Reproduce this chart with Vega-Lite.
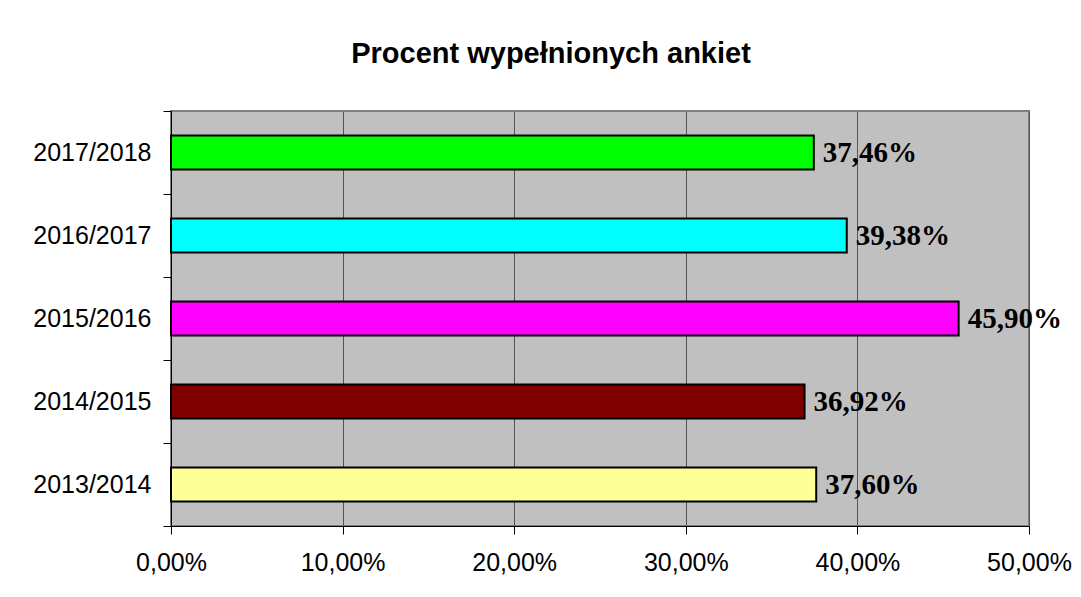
{
  "$schema": "https://vega.github.io/schema/vega-lite/v6.json",
  "width": 858,
  "height": 415,
  "autosize": {"type": "none"},
  "padding": {"left": 171, "top": 111, "right": 52, "bottom": 71},
  "background": "white",
  "title": {
    "text": "Procent wypełnionych ankiet",
    "font": "Liberation Sans",
    "fontSize": 29,
    "fontWeight": "bold",
    "color": "black",
    "anchor": "middle",
    "dx": -49,
    "offset": 7,
    "baseline": "alphabetic"
  },
  "data": {
    "values": [
      {"rok": "2017/2018", "procent": 0.3746},
      {"rok": "2016/2017", "procent": 0.3938},
      {"rok": "2015/2016", "procent": 0.459},
      {"rok": "2014/2015", "procent": 0.3692},
      {"rok": "2013/2014", "procent": 0.376}
    ]
  },
  "encoding": {
    "y": {
      "field": "rok",
      "type": "nominal",
      "sort": ["2017/2018", "2016/2017", "2015/2016", "2014/2015", "2013/2014"],
      "scale": {"paddingInner": 0, "paddingOuter": 0},
      "axis": {
        "title": null,
        "tickBand": "extent",
        "labelFont": "Liberation Sans",
        "labelFontSize": 25,
        "labelColor": "black",
        "tickSize": 8,
        "tickColor": "black",
        "domainColor": "black",
        "labelPadding": 12,
        "grid": false
      }
    }
  },
  "layer": [
    {
      "mark": {"type": "bar", "height": {"band": 0.41}, "stroke": "black", "strokeWidth": 2},
      "encoding": {
        "x": {
          "field": "procent",
          "type": "quantitative",
          "scale": {"domain": [0, 0.5], "nice": false},
          "axis": {
            "title": null,
            "format": ".2%",
            "values": [0, 0.1, 0.2, 0.3, 0.4, 0.5],
            "labelFont": "Liberation Sans",
            "labelFontSize": 25,
            "labelColor": "black",
            "labelFlush": false,
            "tickSize": 8,
            "tickColor": "black",
            "domainColor": "black",
            "labelPadding": 16,
            "grid": true,
            "gridColor": "#555555",
            "gridOpacity": 1
          }
        },
        "color": {
          "field": "rok",
          "type": "nominal",
          "scale": {
            "domain": ["2017/2018", "2016/2017", "2015/2016", "2014/2015", "2013/2014"],
            "range": ["#00FF00", "#00FFFF", "#FF00FF", "#800000", "#FFFF99"]
          },
          "legend": null
        }
      }
    },
    {
      "mark": {
        "type": "text",
        "align": "left",
        "baseline": "middle",
        "dx": 9,
        "font": "Liberation Serif",
        "fontSize": 29,
        "fontWeight": "bold",
        "color": "black"
      },
      "encoding": {
        "x": {"field": "procent", "type": "quantitative"},
        "text": {"field": "procent", "type": "quantitative", "format": ".2%"}
      }
    }
  ],
  "config": {
    "view": {"fill": "#C0C0C0", "stroke": "#808080", "strokeWidth": 2},
    "locale": {
      "number": {"decimal": ",", "thousands": " ", "grouping": [3], "currency": ["", " zł"]}
    }
  }
}
